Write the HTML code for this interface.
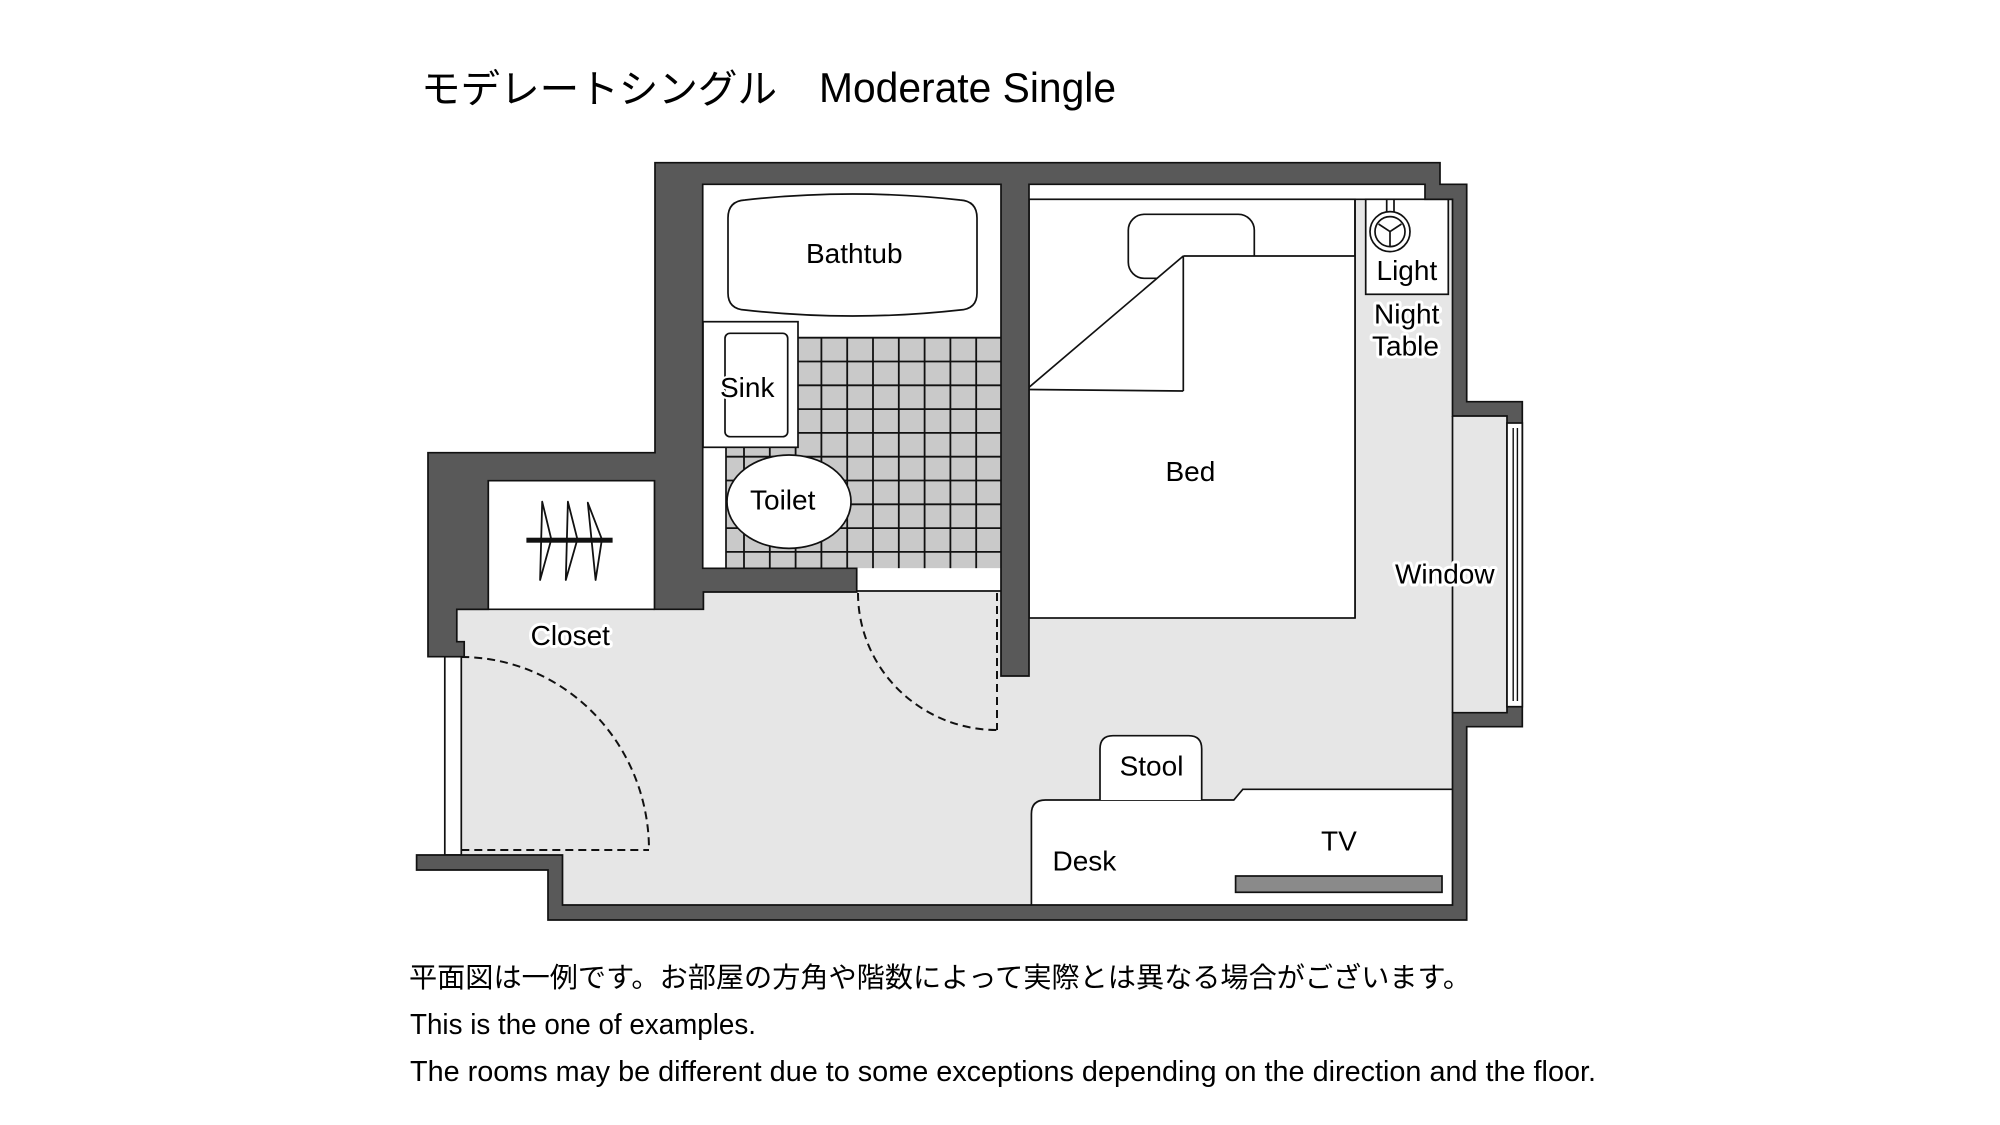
<!DOCTYPE html>
<html>
<head>
<meta charset="utf-8">
<style>
html,body{margin:0;padding:0;background:#ffffff;}
svg{display:block;}
.lbl{font-family:"Liberation Sans",Arial,sans-serif;font-size:28px;fill:#000;}
.halo{paint-order:stroke;stroke:#fff;stroke-width:6px;stroke-linejoin:round;}
.ln{stroke:#111;stroke-width:1.7;fill:none;}
.dash{stroke:#111;stroke-width:2;fill:none;stroke-dasharray:8 5;}
.grid line{stroke:#111;stroke-width:1.8;}
</style>
</head>
<body>
<svg width="2000" height="1125" viewBox="0 0 2000 1125" xmlns="http://www.w3.org/2000/svg">
  <rect x="0" y="0" width="2000" height="1125" fill="#fff"/>

  <!-- Title -->
  <text x="421" y="103" font-family="'Liberation Sans','Noto Sans CJK JP',sans-serif" font-size="39.5" textLength="356" lengthAdjust="spacingAndGlyphs" fill="#000">モデレートシングル</text>
  <text x="819" y="102" font-family="'Liberation Sans',Arial,sans-serif" font-size="42" textLength="297" lengthAdjust="spacingAndGlyphs" fill="#000">Moderate Single</text>

  <!-- Floor (light gray) -->
  <polygon fill="#e6e6e6" points="456.8,609.3 703.4,609.3 703.4,592 1001,592 1001,676 1029,676 1029,184.3 1425,184.3 1425,199.3 1452.5,199.3 1452.5,416 1507,416 1507,712.7 1452.5,712.7 1452.5,905 562.5,905 562.5,855 461.3,855 461.3,656.7 464.2,656.7 464.2,641.7 456.8,641.7"/>

  <!-- Bathroom interior -->
  <rect x="702.7" y="184.3" width="298.3" height="384" fill="#fff"/>
  <!-- Tiles -->
  <polygon fill="#c9c9c9" points="798,337.7 1001,337.7 1001,568.3 726,568.3 726,447.3 798,447.3"/>
  <g class="grid">
    <line x1="744" y1="447.3" x2="744" y2="568.3"/>
    <line x1="769.8" y1="447.3" x2="769.8" y2="568.3"/>
    <line x1="795.6" y1="447.3" x2="795.6" y2="568.3"/>
    <line x1="821.4" y1="337.7" x2="821.4" y2="568.3"/>
    <line x1="847.2" y1="337.7" x2="847.2" y2="568.3"/>
    <line x1="873" y1="337.7" x2="873" y2="568.3"/>
    <line x1="898.8" y1="337.7" x2="898.8" y2="568.3"/>
    <line x1="924.6" y1="337.7" x2="924.6" y2="568.3"/>
    <line x1="950.4" y1="337.7" x2="950.4" y2="568.3"/>
    <line x1="976.2" y1="337.7" x2="976.2" y2="568.3"/>
    <line x1="798" y1="337.7" x2="1001" y2="337.7"/>
    <line x1="798" y1="361.5" x2="1001" y2="361.5"/>
    <line x1="798" y1="385.3" x2="1001" y2="385.3"/>
    <line x1="798" y1="409.1" x2="1001" y2="409.1"/>
    <line x1="798" y1="432.9" x2="1001" y2="432.9"/>
    <line x1="726" y1="456.7" x2="1001" y2="456.7"/>
    <line x1="726" y1="480.5" x2="1001" y2="480.5"/>
    <line x1="726" y1="504.3" x2="1001" y2="504.3"/>
    <line x1="726" y1="528.1" x2="1001" y2="528.1"/>
    <line x1="726" y1="551.9" x2="1001" y2="551.9"/>
  </g>
  <line class="ln" x1="726" y1="447.3" x2="726" y2="568.3"/>

  <!-- Sink cabinet -->
  <rect x="703" y="321.7" width="95" height="125.6" fill="#fff" stroke="#111" stroke-width="1.7"/>
  <rect x="725" y="333.3" width="62.7" height="103.4" rx="5" fill="#fff" stroke="#111" stroke-width="1.7"/>

  <!-- Bathtub -->
  <path d="M745,200 Q852.5,188 960,200 Q977,201 977,218 L977,293 Q977,309 960,310 Q852.5,322 745,310 Q728,309 728,293 L728,218 Q728,201 745,200 Z" fill="#fff" stroke="#111" stroke-width="1.7"/>

  <!-- Toilet -->
  <ellipse cx="789" cy="501.7" rx="62" ry="46.7" fill="#fff" stroke="#111" stroke-width="1.7"/>

  <!-- Bath door opening -->
  <rect x="856.7" y="568.3" width="144.3" height="22.7" fill="#fff"/>
  <line class="ln" x1="856.7" y1="591" x2="1001" y2="591"/>

  <!-- Closet interior -->
  <rect x="488.3" y="480.7" width="166.2" height="128.6" fill="#fff"/>
  <line class="ln" x1="456.8" y1="609.3" x2="654.5" y2="609.3"/>

  <!-- Bedroom top strip -->
  <rect x="1029" y="184.3" width="396" height="15" fill="#fff"/>
  <line class="ln" x1="1029" y1="199.3" x2="1452.5" y2="199.3"/>

  <!-- Bed -->
  <rect x="1029" y="199.3" width="326" height="418.7" fill="#fff" stroke="#111" stroke-width="1.7"/>
  <rect x="1128.3" y="214.3" width="126" height="64" rx="16" fill="#fff" stroke="#111" stroke-width="1.7"/>
  <polygon points="1183.3,256 1355,256 1355,617 1030,617 1030,387.3" fill="#fff"/>
  <line class="ln" x1="1183.3" y1="256" x2="1355" y2="256"/>
  <line class="ln" x1="1183.3" y1="256" x2="1183.3" y2="391"/>
  <line class="ln" x1="1029" y1="389.5" x2="1183.3" y2="391"/>
  <line class="ln" x1="1029" y1="387.3" x2="1183.3" y2="256"/>
  <line class="ln" x1="1355" y1="199.3" x2="1355" y2="618"/>

  <!-- Night table with light -->
  <rect x="1365.7" y="199.3" width="82.6" height="95" fill="#fff" stroke="#111" stroke-width="1.7"/>
  <line class="ln" x1="1386.7" y1="199.3" x2="1386.7" y2="211.5"/>
  <line class="ln" x1="1394" y1="199.3" x2="1394" y2="211.5"/>
  <circle cx="1390" cy="231.6" r="20" fill="#fff" stroke="#111" stroke-width="1.7"/>
  <circle cx="1390" cy="231.6" r="15" fill="#fff" stroke="#111" stroke-width="1.7"/>
  <line class="ln" x1="1390" y1="231.6" x2="1378.5" y2="224"/>
  <line class="ln" x1="1390" y1="231.6" x2="1401.5" y2="224"/>
  <line class="ln" x1="1390" y1="231.6" x2="1390" y2="246"/>

  <!-- Desk -->
  <path d="M1031.4,905 L1031.4,814 Q1031.4,800 1045.4,800 L1233.8,800 L1242.8,789.3 L1452.5,789.3 L1452.5,905 Z" fill="#fff"/>
  <path d="M1031.4,905 L1031.4,814 Q1031.4,800 1045.4,800 L1233.8,800 L1242.8,789.3 L1452.5,789.3" class="ln"/>
  <!-- Stool -->
  <path d="M1100,800 L1100,749 Q1100,735.7 1113,735.7 L1188.7,735.7 Q1201.7,735.7 1201.7,749 L1201.7,800" fill="#fff" stroke="#111" stroke-width="1.7"/>
  <!-- TV -->
  <rect x="1235.6" y="876" width="206.4" height="16.3" fill="#8a8a8a" stroke="#111" stroke-width="1.7"/>

  <!-- Entrance strip -->
  <rect x="444.8" y="656.7" width="16.5" height="198.3" fill="#fff" stroke="#111" stroke-width="1.7"/>

  <!-- Walls -->
  <polygon fill="#595959" stroke="#111" stroke-width="1.7" stroke-linejoin="miter" points="
    428,656.7 428,452.7 655,452.7 655,162.7 1440,162.7 1440,184.3 1466.7,184.3 1466.7,401.7 1522.3,401.7 1522.3,726.7 1466.7,726.7 1466.7,920 548,920 548,870 416.6,870 416.6,855 562.5,855 562.5,905 1452.5,905 1452.5,712.7 1507,712.7 1507,416 1452.5,416 1452.5,199.3 1425,199.3 1425,184.3 1029,184.3 1029,676 1001,676 1001,184.3 702.7,184.3 702.7,568.3 856.7,568.3 856.7,592 703.4,592 703.4,609.3 654.5,609.3 654.5,480.7 488.3,480.7 488.3,609.3 456.8,609.3 456.8,641.7 464.2,641.7 464.2,656.7"/>

  <!-- Window glass -->
  <rect x="1507" y="423" width="15.3" height="283.7" fill="#fff" stroke="#111" stroke-width="1.7"/>
  <line x1="1513.2" y1="428" x2="1513.2" y2="701" stroke="#111" stroke-width="1.4"/>
  <line x1="1517.4" y1="428" x2="1517.4" y2="701" stroke="#111" stroke-width="1.4"/>
  <line class="ln" x1="1452.5" y1="416" x2="1452.5" y2="712.7"/>

  <!-- Door swings -->
  <path class="dash" d="M858,593 A139,137 0 0 0 997,730"/>
  <path class="dash" d="M997,593 L997,730"/>
  <path class="dash" d="M461.3,657 A188,193 0 0 1 649,850"/>
  <path class="dash" d="M461.3,850 L649,850"/>

  <!-- Closet hangers -->
  <rect x="526.4" y="537.7" width="86.2" height="5" fill="#111"/>
  <polygon points="542.2,501.7 551.3,539.3 540.1,580" fill="none" stroke="#111" stroke-width="1.8" stroke-linejoin="round"/>
  <polygon points="567.9,501.7 577.4,539.3 565.8,580" fill="none" stroke="#111" stroke-width="1.8" stroke-linejoin="round"/>
  <polygon points="587.8,502.7 601.9,539.3 595.6,580" fill="none" stroke="#111" stroke-width="1.8" stroke-linejoin="round"/>

  <!-- Labels -->
  <text class="lbl" x="806" y="263">Bathtub</text>
  <text class="lbl" x="720" y="397" style="paint-order:stroke;stroke:#fff;stroke-width:4px;stroke-linejoin:round;">Sink</text>
  <text class="lbl" x="750" y="509.5">Toilet</text>
  <text class="lbl" x="1165.5" y="481">Bed</text>
  <text class="lbl" x="1376.5" y="280">Light</text>
  <text class="lbl halo" x="1374" y="323.3">Night</text>
  <text class="lbl halo" x="1372" y="355.7">Table</text>
  <text class="lbl halo" x="1395" y="583.3">Window</text>
  <text class="lbl halo" x="530.6" y="645">Closet</text>
  <text class="lbl" x="1119.6" y="775.7">Stool</text>
  <text class="lbl" x="1052.5" y="870.7">Desk</text>
  <text class="lbl" x="1321" y="850.7">TV</text>

  <!-- Footer -->
  <text x="409" y="987" font-family="'Liberation Sans','Noto Sans CJK JP',sans-serif" font-size="28" textLength="1062" lengthAdjust="spacingAndGlyphs" fill="#000">平面図は一例です。お部屋の方角や階数によって実際とは異なる場合がございます。</text>
  <text x="410" y="1034" font-family="'Liberation Sans',Arial,sans-serif" font-size="29" textLength="346" lengthAdjust="spacingAndGlyphs" fill="#000">This is the one of examples.</text>
  <text x="410" y="1081" font-family="'Liberation Sans',Arial,sans-serif" font-size="29" textLength="1186" lengthAdjust="spacingAndGlyphs" fill="#000">The rooms may be different due to some exceptions depending on the direction and the floor.</text>
</svg>
</body>
</html>
